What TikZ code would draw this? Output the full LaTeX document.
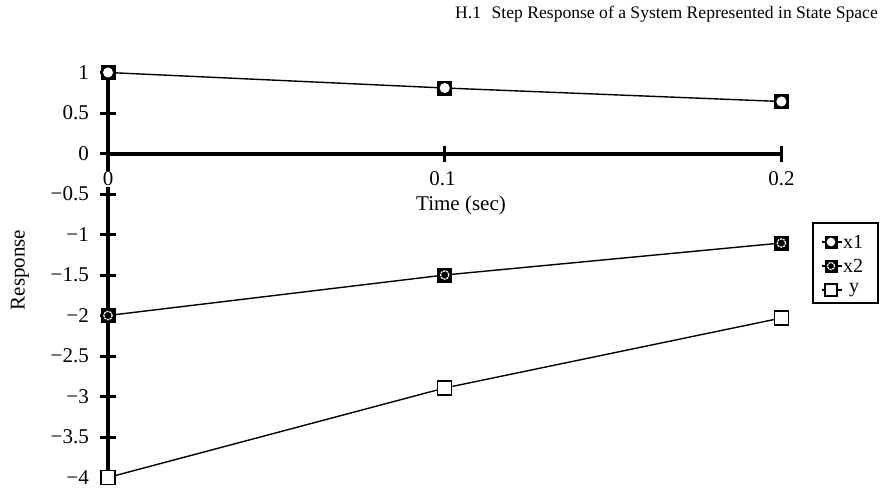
\documentclass[tikz,border=0pt]{standalone}
\usepackage{fontspec}
\setmainfont{Liberation Serif}
\begin{document}
\begin{tikzpicture}[x=1pt,y=-1pt,
  axis/.style={line width=4pt},
  tickmark/.style={line width=3pt},
  dataline/.style={line width=1.4pt},
  lbl/.style={font=\fontsize{21}{21}\selectfont, inner sep=0pt},
  leglbl/.style={font=\fontsize{20}{20}\selectfont, inner sep=0pt},
  mkone/.style={draw=black, fill=black, minimum size=#1, inner sep=0pt, line width=0.8pt,
    path picture={\fill[white] (path picture bounding box.center) circle (0.36*#1);}},
  mkone/.default=14pt,
  mktwo/.style={draw=black, fill=black, minimum size=#1, inner sep=0pt, line width=0.8pt,
    path picture={\draw[white, line width=1.2pt, dash pattern=on 2.2pt off 0.8pt] (path picture bounding box.center) circle (0.3*#1);
      \fill[black] (path picture bounding box.center) circle (0.14*#1);}},
  mktwo/.default=14pt,
  mkthree/.style={draw=black, fill=white, minimum size=#1, inner sep=0pt, line width=1.3pt},
  mkthree/.default=14pt]
\useasboundingbox (0,0) rectangle (881,490);

% header
\node[anchor=east, inner sep=0pt, font=\fontsize{17.6}{17.6}\selectfont] (hdr) at (878,14) {H.1\hspace{0.6em}Step Response of a System Represented in State Space};

% axes
\coordinate (ytop) at (108,72.5);
\coordinate (ybot) at (108,477.5);
\coordinate (xl) at (108,153.5);
\coordinate (xr) at (781.4,153.5);
\draw[axis] (ytop) -- (ybot);
\draw[axis] (xl) -- (xr);

% y ticks and labels
\foreach \v/\t in {1/1, 0.5/0.5, 0/0, -0.5/−0.5, -1/−1, -1.5/−1.5, -2/−2, -2.5/−2.5, -3/−3, -3.5/−3.5, -4/−4}{
  \draw[tickmark] (100,{153.5-81*\v}) -- (116,{153.5-81*\v});
  \node[lbl, anchor=east] (yl\t) at (89,{153.5-81*\v}) {\t};
}
% x ticks
\draw[tickmark] (444.7,145.5) -- (444.7,161.5);
\draw[tickmark] (781.4,145.5) -- (781.4,161.5);
\node[lbl, fill=white, inner sep=1pt] (xt0) at (108,179) {0};
\node[lbl] (xt1) at (442.5,179) {0.1};
\node[lbl] (xt2) at (781.4,179) {0.2};
\node[lbl] (xtitle) at (461,205) {Time (sec)};
\node[lbl, rotate=90] (ytitle) at (20,270) {Response};

% data
\node[mkone] (a0) at (108,72.5) {};
\node[mkone] (a1) at (444.7,88) {};
\node[mkone] (a2) at (781.4,101.5) {};
\node[mktwo] (b0) at (108,315.5) {};
\node[mktwo] (b1) at (444.7,275) {};
\node[mktwo] (b2) at (781.4,243) {};
\node[mkthree] (c0) at (108,477.5) {};
\node[mkthree] (c1) at (444.7,388) {};
\node[mkthree] (c2) at (781.4,318) {};
\draw[dataline] (a0) -- (a1) -- (a2);
\draw[dataline] (b0) -- (b1) -- (b2);
\draw[dataline] (c0) -- (c1) -- (c2);

% legend
\draw[line width=1.2pt] (813,223) rectangle (878,303);
\foreach \i/\yy/\st/\tx in {1/242/mkone/x1, 2/266/mktwo/x2, 3/290/mkthree/y}{
  \coordinate (ll\i) at (822,\yy);
  \coordinate (lr\i) at (842,\yy);
  \draw[line width=1.2pt] (ll\i) -- (lr\i);
  \node[\st=12pt] (lm\i) at (831,\yy) {};
  \node[leglbl, anchor=west] (lt\i) at (\ifnum\i=3 849\else 843\fi,\yy) {\tx};
}
\end{tikzpicture}
\end{document}
